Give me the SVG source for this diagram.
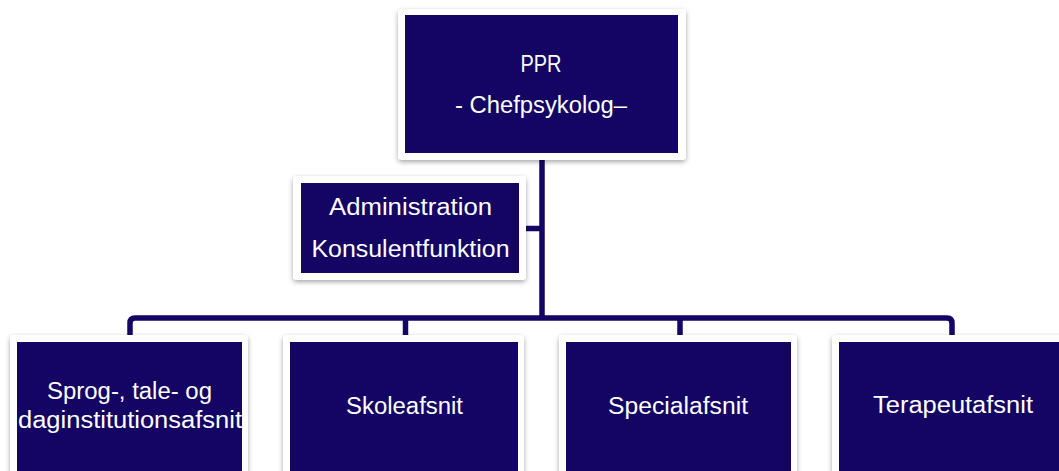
<svg xmlns="http://www.w3.org/2000/svg" width="1059" height="471" viewBox="0 0 1059 471">
<defs>
<filter id="sh" x="-10%" y="-10%" width="120%" height="130%">
<feDropShadow dx="0" dy="2" stdDeviation="2.5" flood-color="#000" flood-opacity="0.35"/>
</filter>
</defs>
<style>
.frame{fill:#ffffff;filter:url(#sh);}
.box{fill:#140564;}
.t{fill:#ffffff;font-family:"Liberation Sans",Arial,sans-serif;font-size:23px;text-anchor:middle;}
.c{fill:none;stroke:#140564;stroke-width:5.5;}
</style>
<rect width="1059" height="471" fill="#ffffff"/>
<g id="connectors">
<path class="c" d="M542,158 V318"/>
<path class="c" d="M522,228.5 H542"/>
<path class="c" d="M130,338 V323 Q130,318 135,318 H947 Q952,318 952,323 V338"/>
<path class="c" d="M405.5,318 V338"/>
<path class="c" d="M680,318 V338"/>
</g>
<g id="ppr">
<rect class="frame" x="398" y="9" width="288" height="151" rx="4"/>
<rect class="box" x="405" y="15" width="273" height="138"/>
<text class="t" x="541" y="72" textLength="41" lengthAdjust="spacingAndGlyphs">PPR</text>
<text class="t" x="541" y="113" textLength="172" lengthAdjust="spacingAndGlyphs">- Chefpsykolog–</text>
</g>
<g id="administration">
<rect class="frame" x="293" y="176" width="233" height="104" rx="4"/>
<rect class="box" x="301" y="183" width="218" height="90"/>
<text class="t" x="410.5" y="215" textLength="163" lengthAdjust="spacingAndGlyphs">Administration</text>
<text class="t" x="410.5" y="257" textLength="198" lengthAdjust="spacingAndGlyphs">Konsulentfunktion</text>
</g>
<g id="sprog">
<rect class="frame" x="10" y="335" width="238" height="150" rx="4"/>
<rect class="box" x="17" y="342" width="225" height="140"/>
<text class="t" x="129.5" y="399" textLength="165" lengthAdjust="spacingAndGlyphs">Sprog-, tale- og</text>
<text class="t" x="130" y="428" textLength="224" lengthAdjust="spacingAndGlyphs">daginstitutionsafsnit</text>
</g>
<g id="skole">
<rect class="frame" x="283" y="335" width="241" height="150" rx="4"/>
<rect class="box" x="290" y="342" width="228" height="140"/>
<text class="t" x="404.5" y="414" textLength="117" lengthAdjust="spacingAndGlyphs">Skoleafsnit</text>
</g>
<g id="special">
<rect class="frame" x="559" y="335" width="238" height="150" rx="4"/>
<rect class="box" x="566" y="342" width="225" height="140"/>
<text class="t" x="678" y="414" textLength="140" lengthAdjust="spacingAndGlyphs">Specialafsnit</text>
</g>
<g id="terapeut">
<rect class="frame" x="832" y="335" width="240" height="150" rx="4"/>
<rect class="box" x="839" y="342" width="233" height="140"/>
<text class="t" x="953" y="413" textLength="160" lengthAdjust="spacingAndGlyphs">Terapeutafsnit</text>
</g>
</svg>
